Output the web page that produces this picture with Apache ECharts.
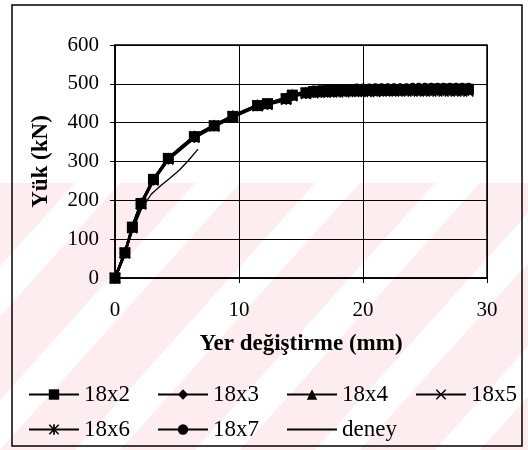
<!DOCTYPE html>
<html>
<head>
<meta charset="utf-8">
<script src="https://cdn.jsdelivr.net/npm/echarts@6/dist/echarts.min.js"></script>
<style>html,body{margin:0;padding:0;background:#fff}#c{width:528px;height:450px}</style>
</head>
<body>
<div id="c"></div>
<script>
// ---- data ----
var seriesNames = ['18x2', '18x3', '18x4', '18x5', '18x6', '18x7', 'deney'];
var xSim = [0, 0.8, 1.4, 2.1, 3.1, 4.3, 6.4, 8.0, 9.5, 11.5, 12.3, 13.8, 14.3, 15.4,
  16, 16.5, 17, 17.5, 18, 18.5, 19, 19.5, 20, 20.5, 21, 21.5, 22, 22.5, 23, 23.5, 24, 24.5, 25, 25.5, 26, 26.5, 27, 27.5, 28, 28.5];
var y18x2 = [0, 65, 131, 192, 254, 308, 364, 392, 416, 444, 449, 462, 471, 477,
  480, 481, 482, 482, 483, 483, 483, 484, 484, 484, 484, 484, 485, 485, 485, 485, 485, 485, 485, 486, 486, 486, 486, 486, 486, 486];
var y18x3 = [0, 64, 129, 190, 252, 306, 362, 391, 415, 443, 447, 460, 469, 475,
  478, 479, 479, 480, 480, 481, 481, 481, 481, 482, 482, 482, 482, 482, 482, 483, 483, 483, 483, 483, 483, 483, 483, 483, 483, 483];
var y18x4 = [0, 66, 132, 193, 255, 309, 366, 394, 418, 446, 450, 464, 473, 479,
  482, 483, 484, 485, 485, 486, 486, 487, 487, 487, 487, 488, 488, 488, 488, 488, 488, 489, 489, 489, 489, 489, 489, 489, 489, 489];
var y18x5 = [0, 63, 128, 189, 251, 305, 361, 390, 414, 442, 446, 459, 468, 474,
  476, 477, 477, 478, 478, 478, 479, 479, 479, 479, 479, 480, 480, 480, 480, 480, 480, 480, 480, 480, 480, 480, 480, 480, 480, 480];
var y18x6 = [0, 65, 130, 191, 253, 307, 363, 393, 417, 445, 448, 461, 470, 476,
  479, 480, 481, 481, 482, 482, 482, 482, 483, 483, 483, 483, 483, 483, 484, 484, 484, 484, 484, 484, 484, 484, 484, 484, 484, 484];
var y18x7 = [0, 66, 131, 193, 254, 308, 365, 393, 417, 445, 449, 463, 472, 478,
  484, 485, 486, 487, 487, 488, 488, 489, 489, 489, 490, 490, 490, 490, 490, 490, 491, 491, 491, 491, 491, 491, 491, 491, 491, 491];
var xDeney = [0, 0.5, 1.0, 1.5, 2.1, 2.9, 3.7, 4.4, 5.2, 5.9, 6.7];
var yDeney = [0, 40, 85, 128, 175, 215, 238, 256, 278, 302, 332];
var xTicks = [0, 10, 20, 30];
var yTicks = [0, 100, 200, 300, 400, 500, 600];

// ---- chart ----
function pairs(xs, ys) { return xs.map(function (x, i) { return [x, ys[i]]; }); }
var simY = [y18x2, y18x3, y18x4, y18x5, y18x6, y18x7];
var symbols = [
  'rect',
  'diamond',
  'triangle',
  'path://M1,0 L5,4 L9,0 L10,1 L6,5 L10,9 L9,10 L5,6 L1,10 L0,9 L4,5 L0,1 Z',
  'path://M1,0 L5,4 L9,0 L10,1 L6,5 L10,9 L9,10 L5,6 L1,10 L0,9 L4,5 L0,1 Z M4.2,0 L5.8,0 L5.8,10 L4.2,10 Z',
  'circle'
];
var symSizes = [11, 11, 11, 11, 11, 9];
var FONT = '"Liberation Serif", "Times New Roman", serif';

var series = simY.map(function (ys, i) {
  return {
    name: seriesNames[i], type: 'line', data: pairs(xSim, ys),
    symbol: symbols[i], symbolSize: symSizes[i], showSymbol: true,
    lineStyle: { color: '#000', width: 2.5 }, itemStyle: { color: '#000' },
    animation: false, z: 3
  };
});
series.push({
  name: 'deney', type: 'line', data: pairs(xDeney, yDeney),
  symbol: 'none', lineStyle: { color: '#000', width: 1.3 }, itemStyle: { color: '#000' },
  animation: false, z: 4
});

// faint watermark stripes (decoration)
var stripes = [];
for (var k = -3; k < 6; k++) {
  var x0 = k * 120;
  stripes.push({
    type: 'polygon', silent: true, z: -10,
    shape: { points: [[x0, 450], [x0 + 75, 450], [x0 + 75 + 240, 183], [x0 + 240, 183]] },
    style: { fill: '#fdedf0' }
  });
}
var graphics = [{ type: 'group', children: stripes, z: -10 },
  { type: 'rect', silent: true, z: 100, shape: { x: 12, y: 5, width: 510, height: 441 },
    style: { fill: 'none', stroke: '#000', lineWidth: 1.5 } }];

var legendCommon = {
  itemWidth: 50, itemHeight: 13, itemGap: 27, padding: 0,
  textStyle: { fontFamily: FONT, fontSize: 23, color: '#000' },
  selectedMode: false, orient: 'horizontal'
};

var chart = echarts.init(document.getElementById('c'), null, { renderer: 'canvas' });
chart.setOption({
  animation: false,
  backgroundColor: '#fff',
  graphic: graphics,
  grid: { left: 115, right: 41, top: 45, bottom: 172, show: true, borderColor: '#000', borderWidth: 1.5, backgroundColor: 'transparent' },
  legend: [
    Object.assign({}, legendCommon, { data: seriesNames.slice(0, 4), left: 28, top: 383 }),
    Object.assign({}, legendCommon, { data: [seriesNames[4], seriesNames[5], { name: 'deney', itemStyle: { opacity: 0 } }], left: 28, top: 418 })
  ],
  xAxis: {
    type: 'value', min: xTicks[0], max: xTicks[xTicks.length - 1], interval: 10,
    name: 'Yer değiştirme (mm)', nameLocation: 'middle', nameGap: 55,
    nameTextStyle: { fontFamily: FONT, fontSize: 23, fontWeight: 'bold', color: '#000' },
    axisLine: { show: true, lineStyle: { color: '#000', width: 1.5 } },
    axisTick: { show: true, inside: false, length: 5, lineStyle: { color: '#000' } },
    axisLabel: { fontFamily: FONT, fontSize: 21, color: '#000', margin: 22 },
    splitLine: { show: true, lineStyle: { color: '#000', width: 1 } }
  },
  yAxis: {
    type: 'value', min: yTicks[0], max: yTicks[yTicks.length - 1], interval: 100,
    name: 'Yük (kN)', nameLocation: 'middle', nameGap: 62, nameRotate: 90,
    nameTextStyle: { fontFamily: FONT, fontSize: 23, fontWeight: 'bold', color: '#000' },
    axisLine: { show: true, lineStyle: { color: '#000', width: 1.5 } },
    axisTick: { show: true, inside: false, length: 5, lineStyle: { color: '#000' } },
    axisLabel: { fontFamily: FONT, fontSize: 21, color: '#000', margin: 16 },
    splitLine: { show: true, lineStyle: { color: '#000', width: 1 } }
  },
  series: series
});
</script>
</body>
</html>
